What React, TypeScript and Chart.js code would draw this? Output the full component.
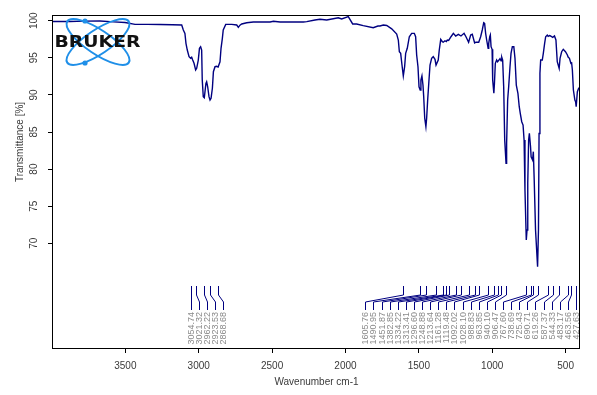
import React, { useEffect, useRef } from 'react';
import { Chart, registerables } from 'chart.js';

Chart.register(...registerables);

// Spectrum (wavenumber cm-1, transmittance %)
const wavenumbers = [
  3993, 3877, 3780, 3673, 3580, 3502, 3434, 3350, 3264, 3180, 3116, 3105, 3094, 3087, 3078, 3066,
  3055, 3048, 3041, 3032, 3021, 3014, 3003, 2995, 2987, 2980, 2976, 2969, 2962, 2951, 2946, 2939,
  2930, 2923, 2916, 2907, 2900, 2889, 2878, 2868, 2855, 2848, 2839, 2833, 2816, 2775, 2741, 2730,
  2719, 2707, 2673, 2628, 2514, 2491, 2446, 2350, 2287, 2264, 2208, 2174, 2128, 2049, 2026, 1981,
  1951, 1924, 1879, 1811, 1779, 1765, 1742, 1719, 1685, 1651, 1640, 1633, 1624, 1615, 1606, 1597,
  1590, 1579, 1565, 1549, 1531, 1522, 1515, 1506, 1499, 1491, 1486, 1479, 1472, 1467, 1460, 1452,
  1447, 1440, 1431, 1424, 1413, 1402, 1390, 1383, 1368, 1361, 1351, 1340, 1334, 1322, 1313, 1306,
  1297, 1281, 1265, 1249, 1231, 1213, 1192, 1179, 1161, 1147, 1136, 1120, 1111, 1092, 1079, 1068,
  1058, 1052, 1045, 1038, 1028, 1024, 1017, 1013, 1008, 1001, 997, 989, 985, 979, 970, 964,
  954, 947, 940, 935, 929, 922, 915, 906, 902, 895, 888, 879, 872, 863, 853, 845,
  836, 825, 816, 809, 799, 790, 783, 777, 768, 763, 758, 752, 747, 739, 735, 725,
  720, 714, 705, 691, 685, 681, 675, 670, 659, 652, 643, 636, 625, 619, 610, 603,
  588, 576, 566, 557, 544, 538, 527, 516, 501, 488, 483, 474, 464, 459, 454, 447,
  437, 432, 428, 420, 411, 402,
];
const transmittance = [
  99.89, 99.9, 99.95, 99.96, 99.85, 99.76, 99.51, 99.5, 99.49, 99.46, 99.42, 98.75, 98.3, 96.95, 96.05, 95.15,
  94.93, 95.07, 94.7, 94.26, 93.36, 93.58, 94.7, 96.28, 96.5, 96.05, 92.0, 89.76, 89.62, 91.56, 91.78, 91.1,
  89.76, 89.31, 89.54, 90.89, 93.13, 93.8, 93.85, 93.75, 94.47, 96.28, 97.63, 98.75, 99.51, 99.51, 99.42, 99.11,
  99.4, 99.56, 99.73, 99.82, 99.82, 99.92, 99.82, 99.83, 99.82, 99.87, 100.09, 100.19, 100.09, 100.4, 100.23, 100.54,
  99.56, 99.56, 99.33, 99.06, 99.29, 99.29, 99.42, 99.35, 98.9, 98.21, 97.4, 95.82, 95.6, 94.03, 92.55, 93.8,
  95.6, 96.28, 97.84, 98.3, 98.3, 97.84, 95.38, 93.8, 91.1, 90.66, 92.0, 92.55, 91.33, 89.76, 86.85, 85.71,
  86.85, 89.31, 92.0, 94.03, 94.93, 95.15, 94.8, 94.03, 94.7, 96.05, 97.49, 97.17, 97.1, 97.3, 97.2, 97.4,
  97.35, 97.84, 98.3, 97.94, 98.17, 97.94, 98.3, 97.84, 97.09, 98.07, 98.17, 97.0, 97.1, 97.1, 97.84, 98.75,
  99.73, 99.65, 98.3, 97.4, 96.28, 96.95, 97.84, 98.07, 96.5, 96.15, 92.0, 90.22, 91.56, 94.26, 94.7, 94.47,
  94.7, 94.9, 94.6, 95.07, 94.7, 91.1, 83.92, 80.78, 83.48, 89.31, 91.1, 93.8, 95.6, 96.5, 96.5, 94.93,
  91.33, 90.22, 88.41, 87.52, 86.39, 85.94, 83.92, 77.18, 70.44, 71.79, 78.09, 83.92, 84.82, 83.02, 81.67, 81.23,
  82.35, 78.53, 71.8, 66.85, 71.79, 84.8, 92.91, 94.7, 94.7, 95.6, 96.95, 97.84, 98.07, 97.9, 98.0, 97.94,
  97.76, 97.94, 97.4, 94.47, 93.58, 94.93, 95.82, 96.15, 95.82, 95.38, 95.1, 94.93, 94.26, 94.3, 93.36, 90.66,
  89.31, 89.08, 88.41, 90.43, 90.89, 90.89,
];

// Peak picks
const peakPositions = [
  3054.74, 3021.32, 2962.22, 2923.53, 2868.68,
  1605.76, 1490.95, 1451.87, 1382.85, 1334.22, 1313.41, 1296.6, 1248.88, 1213.64, 1161.28,
  1119.48, 1092.02, 1028.1, 988.83, 963.85, 940.1, 906.47, 767.6, 738.69, 725.43, 690.71,
  619.26, 587.37, 544.33, 483.17, 463.56, 427.63,
];
const peakLabels = peakPositions.map((p) => p.toFixed(2));

const xTicks = [500, 1000, 1500, 2000, 2500, 3000, 3500];
const yTicks = [70, 75, 80, 85, 90, 95, 100];

const FONT = 'Liberation Sans, Arial, sans-serif';
const TEXT = '#3a3a3a';
const LINE = '#000080';

const framePlugin = {
  id: 'frameAndExtras',
  afterDraw(chart: any) {
    const { ctx, chartArea } = chart;
    const { left, top, right, bottom } = chartArea;
    const xs = chart.scales.x;
    ctx.save();

    // peak marker lines and labels
    const px = peakPositions.map((p) => xs.getPixelForValue(p));
    const gap = 8.1;
    const pos = px.slice();
    for (let i = 1; i < pos.length; i++) pos[i] = Math.max(pos[i], pos[i - 1] + gap);
    pos[pos.length - 1] = Math.min(pos[pos.length - 1], right - 4);
    for (let i = pos.length - 2; i >= 0; i--) pos[i] = Math.min(pos[i], pos[i + 1] - gap);
    const yTop = bottom - 62;
    const yDiag1 = bottom - 53;
    const yDiag2 = bottom - 46;
    const yEnd = bottom - 38;
    ctx.strokeStyle = LINE;
    ctx.lineWidth = 1;
    for (let i = 0; i < px.length; i++) {
      const a = Math.round(px[i]) + 0.5;
      const b = Math.round(pos[i]) + 0.5;
      ctx.beginPath();
      ctx.moveTo(a, yTop);
      ctx.lineTo(a, yDiag1);
      ctx.lineTo(b, yDiag2);
      ctx.lineTo(b, yEnd);
      ctx.stroke();
    }
    ctx.fillStyle = '#8a8a8a';
    ctx.font = '9px ' + FONT;
    ctx.textAlign = 'right';
    ctx.textBaseline = 'middle';
    for (let i = 0; i < px.length; i++) {
      ctx.save();
      ctx.translate(Math.round(pos[i]) + 0.5, bottom - 36);
      ctx.rotate(-Math.PI / 2);
      ctx.fillText(peakLabels[i], 0, 0);
      ctx.restore();
    }

    // frame
    ctx.strokeStyle = '#000';
    ctx.lineWidth = 1;
    ctx.strokeRect(Math.round(left) - 0.5, Math.round(top) + 0.5, Math.round(right - left), Math.round(bottom - top));

    // y axis title
    ctx.save();
    ctx.fillStyle = TEXT;
    ctx.font = '10px ' + FONT;
    ctx.textAlign = 'center';
    ctx.textBaseline = 'middle';
    ctx.translate(20.5, 142);
    ctx.rotate(-Math.PI / 2);
    ctx.fillText('Transmittance [%]', 0, 0);
    ctx.restore();

    // logo
    const cx = left + 45;
    const cy = top + 27;
    ctx.strokeStyle = '#1f8fe8';
    ctx.fillStyle = '#1f8fe8';
    ctx.lineWidth = 2;
    ctx.beginPath();
    ctx.ellipse(cx, cy, 37, 12, 0.59, 0, Math.PI * 2);
    ctx.stroke();
    ctx.beginPath();
    ctx.ellipse(cx, cy, 37, 12, -0.59, 0, Math.PI * 2);
    ctx.stroke();
    ctx.beginPath();
    ctx.arc(cx - 13, cy - 21, 2.6, 0, Math.PI * 2);
    ctx.fill();
    ctx.beginPath();
    ctx.arc(cx - 13, cy + 21, 2.6, 0, Math.PI * 2);
    ctx.fill();
    ctx.font = 'bold 15px DejaVu Sans, sans-serif';
    ctx.fillStyle = '#111';
    ctx.textAlign = 'left';
    ctx.textBaseline = 'alphabetic';
    const w = ctx.measureText('BRUKER').width;
    ctx.save();
    ctx.translate(left + 1.5, top + 31.8);
    ctx.scale(86 / w, 1);
    ctx.fillText('BRUKER', 0, 0);
    ctx.restore();

    ctx.restore();
  },
};

export default function App() {
  const ref = useRef<HTMLCanvasElement | null>(null);
  useEffect(() => {
    if (!ref.current) return;
    const data = wavenumbers.map((w, i) => ({ x: w, y: transmittance[i] }));
    const font = { family: FONT, size: 10 };
    const chart = new Chart(ref.current, {
      type: 'line',
      data: {
        datasets: [
          {
            data,
            borderColor: LINE,
            borderWidth: 1.4,
            pointRadius: 0,
            tension: 0,
            fill: false,
          },
        ],
      },
      options: {
        animation: false,
        responsive: false,
        devicePixelRatio: 1,
        events: [],
        layout: { padding: { left: 0, right: 17, top: 15, bottom: 0 } },
        plugins: { legend: { display: false }, tooltip: { enabled: false } },
        scales: {
          x: {
            type: 'linear',
            reverse: true,
            min: 402,
            max: 3993,
            afterBuildTicks: (s: any) => {
              s.ticks = xTicks.map((v) => ({ value: v }));
            },
            afterFit: (s: any) => {
              s.height = 47;
            },
            grid: { drawOnChartArea: false, drawTicks: true, tickLength: 5, color: '#000' },
            border: { display: false },
            ticks: {
              padding: 7,
              font,
              color: TEXT,
              maxRotation: 0,
              autoSkip: false,
              callback: (v: any) => String(v),
            },
            title: {
              display: true,
              text: 'Wavenumber cm-1',
              font,
              color: TEXT,
              padding: { top: 0, bottom: 7 },
            },
          },
          y: {
            type: 'linear',
            min: 55.89,
            max: 100.77,
            afterBuildTicks: (s: any) => {
              s.ticks = yTicks.map((v) => ({ value: v }));
            },
            afterFit: (s: any) => {
              s.width = 53;
            },
            grid: { drawOnChartArea: false, drawTicks: true, tickLength: 5, color: '#000' },
            border: { display: false },
            ticks: {
              minRotation: 90,
              maxRotation: 90,
              crossAlign: 'center',
              padding: 5,
              font,
              color: TEXT,
              autoSkip: false,
              callback: (v: any) => String(v),
            },
          },
        },
      },
      plugins: [framePlugin],
    } as any);
    return () => chart.destroy();
  }, []);
  return (
    <div style={{ position: 'absolute', left: 0, top: 0, width: 597, height: 395, background: '#fff' }}>
      <canvas ref={ref} width={597} height={395} />
    </div>
  );
}
